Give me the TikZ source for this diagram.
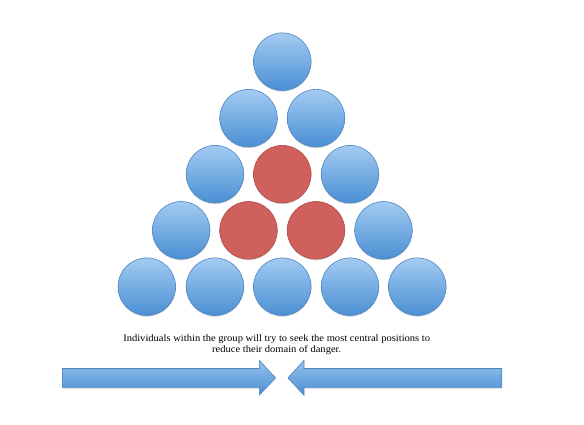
\documentclass[tikz,border=0pt]{standalone}
\usepackage{fontspec}
\setmainfont{Liberation Serif}
\newfontfamily\capfont[FakeStretch=1.065]{Liberation Serif}
\usetikzlibrary{shadows}
\definecolor{bluetop}{HTML}{A3CBF2}
\definecolor{bluebot}{HTML}{4A8FD4}
\definecolor{blueedge}{HTML}{4F86C0}
\definecolor{redfill}{HTML}{CF605C}
\definecolor{rededge}{HTML}{B04E4B}
\tikzset{
  ball/.style={circle, minimum size=57.6pt, inner sep=0pt, line width=0.6pt,
    draw=blueedge, top color=bluetop, bottom color=bluebot,
    drop shadow={shadow xshift=0pt, shadow yshift=-1.2pt, opacity=0.25, fill=black!60}},
  hot/.style={ball, draw=rededge, top color=redfill, bottom color=redfill},
  arrowbody/.style={draw=blueedge, line width=0.6pt, top color=bluetop!85!bluebot, bottom color=bluebot,
    drop shadow={shadow xshift=0pt, shadow yshift=-1.2pt, opacity=0.25, fill=black!60}},
  caption/.style={align=center, font=\capfont\fontsize{9.9}{11}\selectfont, inner sep=0pt}
}
\begin{document}
\begin{tikzpicture}[x=1pt, y=-1pt]
\useasboundingbox (0,0) rectangle (584,425);
% row 1
\node[ball] (b11) at (282.3,61.7) {};
% row 2
\node[ball] (b21) at (248.5,118.2) {};
\node[ball] (b22) at (316.0,118.2) {};
% row 3
\node[ball] (b31) at (215.0,174.2) {};
\node[hot]  (b32) at (282.3,174.2) {};
\node[ball] (b33) at (350.0,174.2) {};
% row 4
\node[ball] (b41) at (181.2,230.3) {};
\node[hot]  (b42) at (248.5,230.3) {};
\node[hot]  (b43) at (316.0,230.3) {};
\node[ball] (b44) at (383.5,230.3) {};
% row 5
\node[ball] (b51) at (146.8,286.7) {};
\node[ball] (b52) at (215.0,286.7) {};
\node[ball] (b53) at (282.3,286.7) {};
\node[ball] (b54) at (350.0,286.7) {};
\node[ball] (b55) at (417.3,286.7) {};
% caption
\node[caption] (txt) at (276.7,344.6) {Individuals within the group will try to seek the most central positions to\\reduce their domain of danger.};
% arrows
\path[arrowbody] (62.3,368.5) -- (259.3,368.5) -- (259.3,360.3) -- (275.5,377.8)
  -- (259.3,395.0) -- (259.3,387.3) -- (62.3,387.3) -- cycle;
\path[arrowbody] (501.7,368.5) -- (304.0,368.5) -- (304.0,360.3) -- (288.0,377.8)
  -- (304.0,395.0) -- (304.0,387.3) -- (501.7,387.3) -- cycle;
\end{tikzpicture}
\end{document}
